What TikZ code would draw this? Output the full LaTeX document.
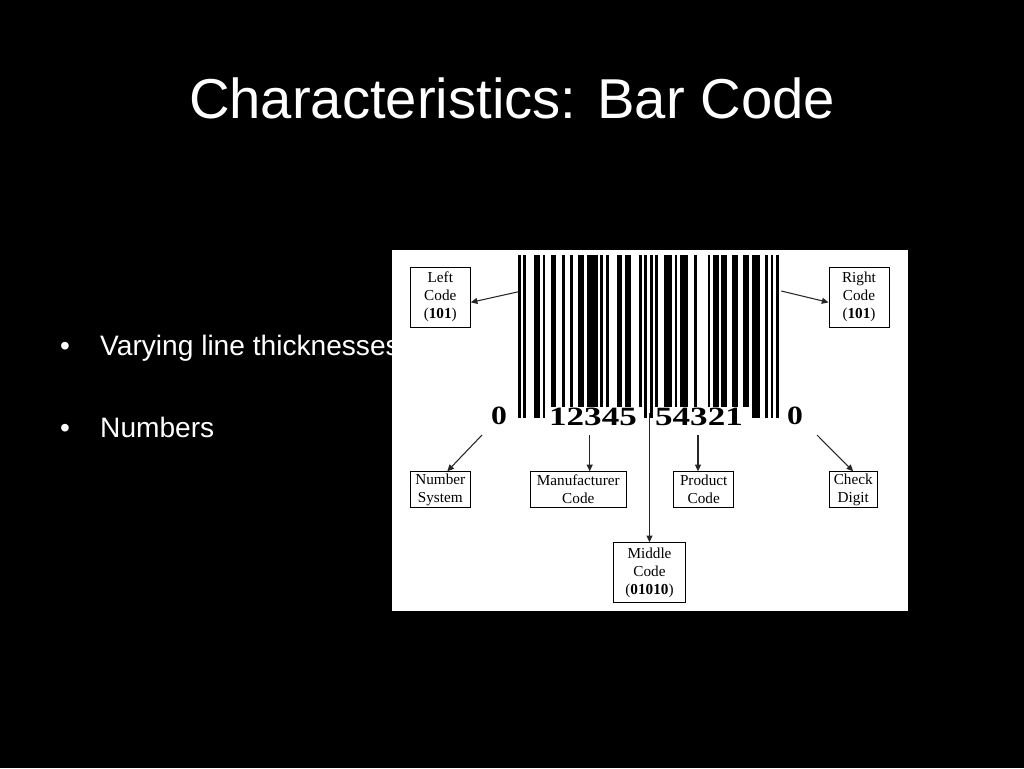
\documentclass[tikz,border=0pt]{standalone}
\usepackage{fontspec}
\setmainfont{Liberation Serif}
\newfontfamily\slidefont{Liberation Sans}
\usetikzlibrary{arrows.meta}

\begin{document}
\begin{tikzpicture}[x=0.3mm,y=-0.3mm,
        tag/.style={draw,line width=0.8pt,inner sep=0pt,align=center,font=\fontsize{13}{15.2}\selectfont},
        pointer/.style={line width=0.9pt,black!85,-{Triangle[length=2mm,width=1.8mm]}},
        numeral/.style={inner sep=0pt,anchor=base,font=\fontsize{22.5}{26}\selectfont\bfseries},
        bullet/.style={anchor=base west,inner sep=0pt,text=white,font=\slidefont\fontsize{24}{29}\selectfont}]
        \useasboundingbox (0,0) rectangle (1024,768);
        \fill[black] (0,0) rectangle (1024,768);
        \node[text=white,anchor=base,inner sep=0pt,font=\slidefont\fontsize{48}{58}\selectfont] (title) at (512,118) {Characteristics: Bar Code};
        \node[bullet] (dot1) at (60,355) {\textbullet};
        \node[bullet] (item1) at (100,355) {Varying line thicknesses};
        \node[bullet] (dot2) at (60,437) {\textbullet};
        \node[bullet] (item2) at (100,437) {Numbers};
        \fill[white] (392,250) rectangle (908,611);
        \foreach \s/\w in {12/2,16/1,19/1,22/2,25/4,30/1,32/1,36/2,39/2,44/1,50/1,53/3,57/1,59/3,64/1,69/1,71/2,74/2,78/2,82/2}
            \fill ({518+\s*2.747},255) rectangle ({518+(\s+\w)*2.747},407);
        \foreach \s/\w in {0/1,2/1,6/2,9/1,46/1,48/1,85/3,90/1,92/1,94/1}
            \fill ({518+\s*2.747},255) rectangle ({518+(\s+\w)*2.747},418);
        \node[numeral] (d0) at (499,424) {\scalebox{1.2}[1]{0}};
        \node[numeral] (dl) at (593,425) {\scalebox{1.33}[1]{12345}};
        \node[numeral] (dr) at (699,425) {\scalebox{1.33}[1]{54321}};
        \node[numeral] (d9) at (795,424) {\scalebox{1.2}[1]{0}};
        \node[tag,minimum width=18mm,minimum height=18mm] (lcode) at (440.3,297) {Left\\Code\\(\textbf{101})};
        \node[tag,minimum width=18mm,minimum height=18mm] (rcode) at (859,297) {Right\\Code\\(\textbf{101})};
        \node[tag,minimum width=18mm,minimum height=10.65mm] (nsys) at (440.3,489.5) {Number\\System};
        \node[tag,minimum width=28.8mm,minimum height=10.65mm] (manu) at (578.3,489.5) {Manufacturer\\Code};
        \node[tag,minimum width=18mm,minimum height=10.65mm] (prod) at (703.7,489.5) {Product\\Code};
        \node[tag,minimum width=14.3mm,minimum height=10.65mm] (chk) at (853.2,489.5) {Check\\Digit};
        \node[tag,minimum width=21.5mm,minimum height=18mm] (mid) at (649.5,572.7) {Middle\\Code\\(\textbf{01010})};
        \coordinate (lcfrom) at (518.7,291.7);
        \coordinate (rcfrom) at (781.3,291);
        \coordinate (nsfrom) at (482,435);
        \coordinate (mffrom) at (589.7,435);
        \coordinate (mdfrom) at (649.5,413);
        \coordinate (pdfrom) at (698,435);
        \coordinate (ckfrom) at (817,435);
        \draw[pointer] (lcfrom) -- (lcode.-10);
        \draw[pointer] (rcfrom) -- (rcode.190);
        \draw[pointer] (nsfrom) -- (nsys.69);
        \draw[pointer] (mffrom) -- (mffrom |- manu.north);
        \draw[pointer] (mdfrom) -- (mid.north);
        \draw[pointer] (pdfrom) -- (pdfrom |- prod.north);
        \draw[pointer] (ckfrom) -- (chk.north);
    \end{tikzpicture}
\end{document}
